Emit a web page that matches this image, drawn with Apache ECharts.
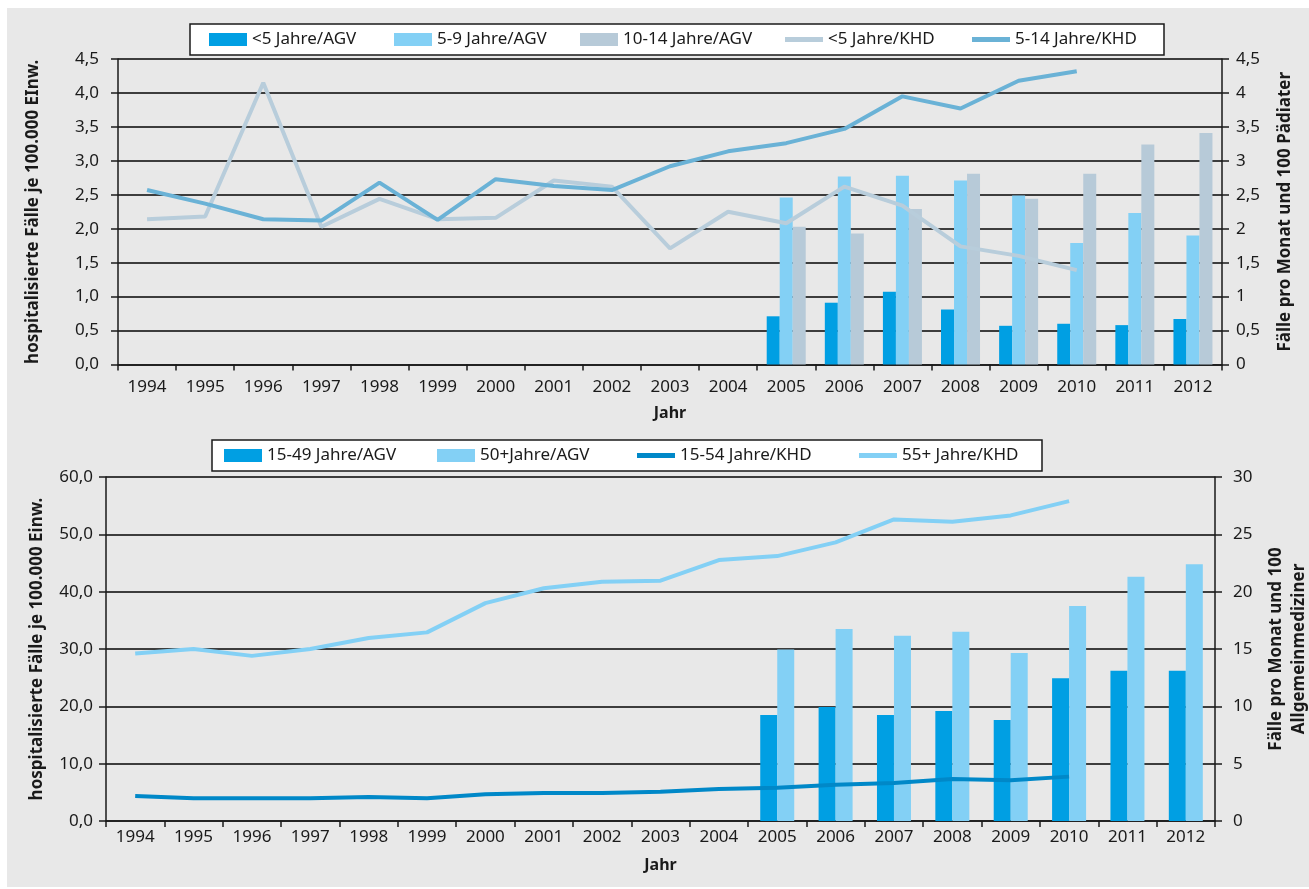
<!DOCTYPE html>
<html>
<head>
<meta charset="utf-8">
<script src="https://cdn.jsdelivr.net/npm/echarts@6/dist/echarts.min.js"></script>
<style>
  html, body { margin: 0; padding: 0; background: #fff; }
  #chart { width: 1309px; height: 889px; }
</style>
</head>
<body>
<div id="chart"></div>
<script>
const years = ['1994', '1995', '1996', '1997', '1998', '1999', '2000', '2001', '2002', '2003',
    '2004', '2005', '2006', '2007', '2008', '2009', '2010', '2011', '2012'];

// oben: Kinder
const agvUnder5 = [null, null, null, null, null, null, null, null, null, null, null,
    0.71, 0.91, 1.07, 0.81, 0.57, 0.60, 0.58, 0.67];
const agv5to9 = [null, null, null, null, null, null, null, null, null, null, null,
    2.46, 2.77, 2.78, 2.71, 2.49, 1.79, 2.23, 1.90];
const agv10to14 = [null, null, null, null, null, null, null, null, null, null, null,
    2.03, 1.93, 2.29, 2.81, 2.44, 2.81, 3.24, 3.41];
const khdUnder5 = [2.14, 2.18, 4.15, 2.03, 2.44, 2.14, 2.16, 2.71, 2.62, 1.71,
    2.25, 2.08, 2.62, 2.34, 1.74, 1.60, 1.39, null, null];
const khd5to14 = [2.57, 2.37, 2.14, 2.12, 2.68, 2.13, 2.73, 2.63, 2.57, 2.92,
    3.14, 3.26, 3.47, 3.95, 3.77, 4.18, 4.32, null, null];

// unten: Erwachsene
const agv15to49 = [null, null, null, null, null, null, null, null, null, null, null,
    18.5, 19.9, 18.5, 19.2, 17.6, 24.9, 26.2, 26.2];
const agv50plus = [null, null, null, null, null, null, null, null, null, null, null,
    29.9, 33.5, 32.3, 33.0, 29.3, 37.5, 42.6, 44.8];
const khd15to54 = [2.18, 1.98, 1.98, 1.98, 2.09, 1.98, 2.33, 2.44, 2.44, 2.56,
    2.79, 2.91, 3.17, 3.31, 3.66, 3.55, 3.87, null, null];
const khd55plus = [14.6, 15.0, 14.4, 15.0, 15.96, 16.45, 19.0, 20.3, 20.87, 20.96,
    22.76, 23.1, 24.3, 26.3, 26.1, 26.65, 27.9, null, null];

const FONT = 'Noto Sans';
const ink = '#1a1a1a';
const gridLine = { show: true, lineStyle: { color: '#3d3d3d', width: 2 } };
const axisLine = { show: true, lineStyle: { color: ink, width: 1.5 } };
const comma1 = v => v.toFixed(1).replace('.', ',');
const LINE_ICON = 'path://M0,0 L38,0 L38,5 L0,5 Z';

function legendItem(name, w, icon) {
    return { name: name, icon: icon || 'rect', textStyle: { width: w } };
}

function catAxis(gridIndex, margin, gap) {
    return {
        type: 'category',
        gridIndex: gridIndex,
        data: years,
        name: 'Jahr',
        nameLocation: 'middle',
        nameGap: gap,
        nameTextStyle: { fontFamily: FONT, fontWeight: 'bold', fontSize: 16, color: ink },
        axisLine: axisLine,
        axisTick: { show: true, length: 6, lineStyle: { color: ink, width: 1.5 } },
        axisLabel: { fontFamily: FONT, fontSize: 17, color: ink, margin: margin, interval: 0 }
    };
}

function valAxis(gridIndex, opts) {
    return Object.assign({
        type: 'value',
        gridIndex: gridIndex,
        min: 0,
        nameLocation: 'middle',
        nameRotate: 90,
        nameTextStyle: { fontFamily: FONT, fontWeight: 'bold', fontSize: 17, color: ink, lineHeight: 23 },
        axisLine: axisLine,
        axisTick: { show: true, length: 7, lineStyle: { color: ink, width: 1.5 } },
        splitLine: { show: false }
    }, opts);
}

let myChart = echarts.init(document.getElementById('chart'));

let option = {
    animation: false,
    backgroundColor: '#fff',
    graphic: [{
        type: 'rect',
        z: -10,
        shape: { x: 7, y: 8, width: 1302, height: 879 },
        style: { fill: '#e8e8e8' }
    }],
    legend: [{
        left: 190,
        top: 24,
        padding: [7, 19, 7, 19],
        backgroundColor: '#fff',
        borderColor: ink,
        borderWidth: 1.5,
        itemWidth: 38,
        itemHeight: 13,
        itemGap: 26,
        textStyle: { fontFamily: FONT, fontSize: 17, color: ink, lineHeight: 17 },
        data: [
            legendItem('<5 Jahre/AGV', 116),
            legendItem('5-9 Jahre/AGV', 117),
            legendItem('10-14 Jahre/AGV', 136),
            legendItem('<5 Jahre/KHD', 118, LINE_ICON),
            legendItem('5-14 Jahre/KHD', 130, LINE_ICON)
        ]
    }, {
        left: 212,
        top: 440,
        padding: [7, 8, 7, 12],
        backgroundColor: '#fff',
        borderColor: ink,
        borderWidth: 1.5,
        itemWidth: 38,
        itemHeight: 13,
        itemGap: 30,
        textStyle: { fontFamily: FONT, fontSize: 17, color: ink, lineHeight: 16 },
        data: [
            legendItem('15-49 Jahre/AGV', 140),
            legendItem('50+Jahre/AGV', 127),
            legendItem('15-54 Jahre/KHD', 149, LINE_ICON),
            legendItem('55+ Jahre/KHD', 132, LINE_ICON)
        ]
    }],
    grid: [
        { left: 118, right: 87, top: 59, height: 305.5, outerBoundsMode: 'none' },
        { left: 106, right: 94, top: 477, height: 344, outerBoundsMode: 'none' }
    ],
    xAxis: [
        catAxis(0, 14, 41),
        catAxis(1, 8, 36)
    ],
    yAxis: [
        valAxis(0, {
            position: 'left', max: 4.5, interval: 0.5,
            name: 'hospitalisierte Fälle je 100.000 EInw.', nameGap: 73,
            splitLine: gridLine,
            axisLabel: { fontFamily: FONT, fontSize: 17, color: ink, margin: 19, formatter: comma1 }
        }),
        valAxis(0, {
            position: 'right', max: 4.5, interval: 0.5,
            name: 'Fälle pro Monat und 100 Pädiater', nameGap: 52,
            axisLabel: {
                fontFamily: FONT, fontSize: 17, color: ink, margin: 14,
                formatter: v => String(v).replace('.', ',')
            }
        }),
        valAxis(1, {
            position: 'left', max: 60, interval: 10,
            name: 'hospitalisierte Fälle je 100.000 Einw.', nameGap: 52,
            splitLine: gridLine,
            axisLabel: { fontFamily: FONT, fontSize: 17, color: ink, margin: 13, formatter: comma1 }
        }),
        valAxis(1, {
            position: 'right', max: 30, interval: 5,
            name: 'Fälle pro Monat und 100\nAllgemeinmediziner', nameGap: 50,
            axisLabel: { fontFamily: FONT, fontSize: 17, color: ink, margin: 18 }
        })
    ],
    series: [
        { name: '<5 Jahre/AGV', type: 'bar', xAxisIndex: 0, yAxisIndex: 0, data: agvUnder5,
          barWidth: 13, barGap: '0%', itemStyle: { color: '#009fe3' } },
        { name: '5-9 Jahre/AGV', type: 'bar', xAxisIndex: 0, yAxisIndex: 0, data: agv5to9,
          barWidth: 13, barGap: '0%', itemStyle: { color: '#83d0f5' } },
        { name: '10-14 Jahre/AGV', type: 'bar', xAxisIndex: 0, yAxisIndex: 0, data: agv10to14,
          barWidth: 13, barGap: '0%', itemStyle: { color: '#b7cad8' } },
        { name: '<5 Jahre/KHD', type: 'line', xAxisIndex: 0, yAxisIndex: 1, data: khdUnder5,
          symbol: 'none', lineStyle: { color: '#b8cddb', width: 4 }, itemStyle: { color: '#b8cddb' } },
        { name: '5-14 Jahre/KHD', type: 'line', xAxisIndex: 0, yAxisIndex: 1, data: khd5to14,
          symbol: 'none', lineStyle: { color: '#6ab2d6', width: 4 }, itemStyle: { color: '#6ab2d6' } },

        { name: '15-49 Jahre/AGV', type: 'bar', xAxisIndex: 1, yAxisIndex: 2, data: agv15to49,
          barWidth: 17, barGap: '0%', itemStyle: { color: '#009fe3' } },
        { name: '50+Jahre/AGV', type: 'bar', xAxisIndex: 1, yAxisIndex: 2, data: agv50plus,
          barWidth: 17, barGap: '0%', itemStyle: { color: '#83d0f5' } },
        { name: '15-54 Jahre/KHD', type: 'line', xAxisIndex: 1, yAxisIndex: 3, data: khd15to54,
          symbol: 'none', lineStyle: { color: '#0088c8', width: 4 }, itemStyle: { color: '#0088c8' } },
        { name: '55+ Jahre/KHD', type: 'line', xAxisIndex: 1, yAxisIndex: 3, data: khd55plus,
          symbol: 'none', lineStyle: { color: '#83d0f5', width: 4 }, itemStyle: { color: '#83d0f5' } }
    ]
};

myChart.setOption(option);
</script>
</body>
</html>
